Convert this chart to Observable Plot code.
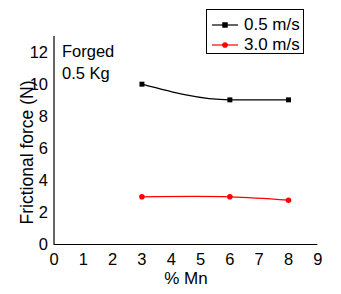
<!DOCTYPE html>
<html>
<head>
<meta charset="utf-8">
<script src="https://cdn.jsdelivr.net/npm/d3@7"></script>
<script src="https://cdn.jsdelivr.net/npm/@observablehq/plot@0.6"></script>
<style>
  body { margin: 0; background: #fff; font-family: "Liberation Sans", Arial, sans-serif; }
  #wrap { position: relative; width: 341px; height: 294px; }
  #legend { position: absolute; left: 206px; top: 9px; width: 96px; height: 43px; border: 1px solid #000; background: #fff; }
  .row { position: absolute; left: 0; height: 20px; display: flex; align-items: center; font-size: 17px; color: #000; }
  .row svg { margin-left: 5px; margin-right: 6px; }
</style>
</head>
<body>
<div id="wrap"></div>
<script>
const mn = [3, 6, 8];
const seriesNames = ["0.5 m/s", "3.0 m/s"];
const seriesColors = ["#000000", "#ff0000"];
const force05 = [10.02, 9.04, 9.04];
const force30 = [2.98, 2.98, 2.77];
const xTicks = [0, 1, 2, 3, 4, 5, 6, 7, 8, 9];
const yTicks = [0, 2, 4, 6, 8, 10, 12];
const annotation = "Forged\n0.5 Kg";
const xLabel = "% Mn";
const yLabel = "Frictional force (N)";

const s05 = mn.map((x, i) => ({x, y: force05[i], s: seriesNames[0]}));
const s30 = mn.map((x, i) => ({x, y: force30[i], s: seriesNames[1]}));

const chart = Plot.plot({
  width: 341,
  height: 294,
  marginLeft: 53.5,
  marginRight: 23.7,
  marginTop: 36,
  marginBottom: 50,
  style: {fontFamily: "'Liberation Sans', Arial, sans-serif", fontSize: "16.5px", color: "#000", background: "#fff"},
  x: {domain: [0, 9]},
  y: {domain: [0, 13]},
  marks: [
    Plot.axisX({ticks: xTicks, tickSize: 0, tickPadding: 8.5, label: null, fontSize: 16.5}),
    Plot.axisY({ticks: yTicks, tickSize: 0, tickPadding: 6, label: null, fontSize: 16.5}),
    Plot.ruleY([0], {stroke: "#000", strokeWidth: 1.2}),
    Plot.ruleX([0], {stroke: "#000", strokeWidth: 1.2}),
    Plot.line(s05, {x: "x", y: "y", stroke: seriesColors[0], strokeWidth: 1.2, curve: "monotone-x"}),
    Plot.line(s30, {x: "x", y: "y", stroke: seriesColors[1], strokeWidth: 1.3, curve: "catmull-rom"}),
    Plot.dot(s05, {x: "x", y: "y", symbol: "square", r: 2.8, fill: seriesColors[0], stroke: "none"}),
    Plot.dot(s30, {x: "x", y: "y", symbol: "circle", r: 2.8, fill: seriesColors[1], stroke: "none"}),
    Plot.text([annotation], {frameAnchor: "top-left", lineAnchor: "top", textAnchor: "start", dx: 8, dy: 4.5, fontSize: 16.5, lineHeight: 1.35, fill: "#000"}),
    Plot.text([yLabel], {frameAnchor: "left", textAnchor: "middle", lineAnchor: "middle", rotate: -90, dx: -27, dy: 12, fontSize: 17.5, fill: "#000"}),
    Plot.text([xLabel], {frameAnchor: "bottom", textAnchor: "middle", lineAnchor: "middle", dy: 34.25, fontSize: 17, fill: "#000"})
  ]
});

const wrap = document.getElementById("wrap");
wrap.appendChild(chart);

const legend = document.createElement("div");
legend.id = "legend";
seriesNames.forEach((name, i) => {
  const row = document.createElement("div");
  row.className = "row";
  row.style.top = (5 + i * 20) + "px";
  const sw = d3.create("svg").attr("width", 26).attr("height", 10);
  sw.append("line").attr("x1", 0).attr("x2", 26).attr("y1", 5).attr("y2", 5)
    .attr("stroke", seriesColors[i]).attr("stroke-width", 1.2);
  sw.append("path").attr("transform", "translate(13,5)")
    .attr("d", d3.symbol(i === 0 ? d3.symbolSquare : d3.symbolCircle, i === 0 ? 30 : 25)())
    .attr("fill", seriesColors[i]);
  row.appendChild(sw.node());
  const t = document.createElement("span");
  t.textContent = name;
  row.appendChild(t);
  legend.appendChild(row);
});
wrap.appendChild(legend);
</script>
</body>
</html>
